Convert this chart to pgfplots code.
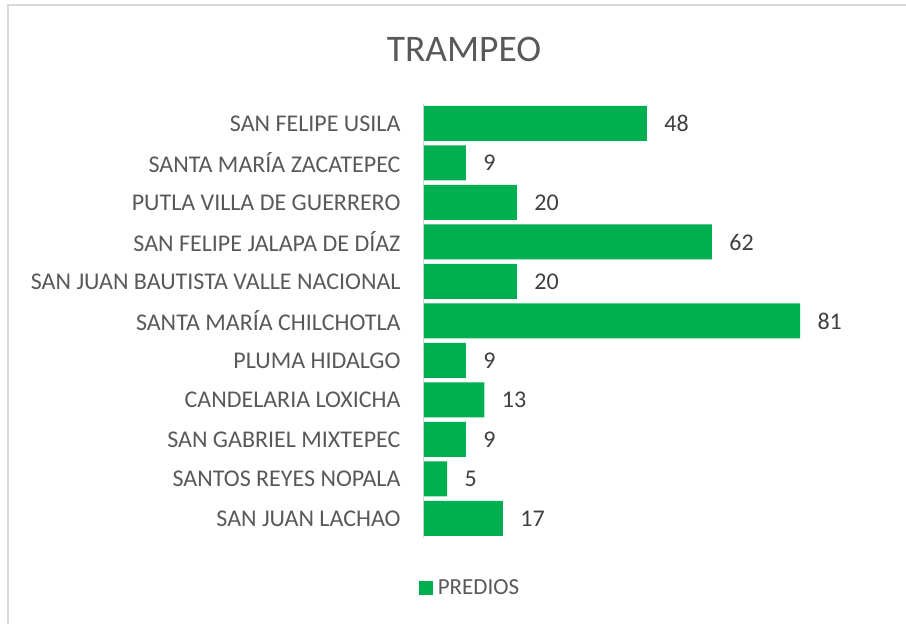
\documentclass[border=0pt]{standalone}
\usepackage{pgfplots}
\pgfplotsset{compat=1.18}
\usepackage{fontspec}
\setmainfont{Carlito}
\definecolor{barg}{RGB}{0,176,80}
\definecolor{txt}{RGB}{89,89,89}
\definecolor{dtxt}{RGB}{64,64,64}
\definecolor{lgray}{RGB}{217,217,217}
\begin{document}
\begin{tikzpicture}[x=1pt,y=1pt]
\path[use as bounding box] (0,0) rectangle (906,624);
\draw[lgray,line width=1.5pt] (8,0) -- (8,619) -- (906,619);
\node[anchor=base,text=txt,font=\fontsize{37.5}{42}\selectfont] at (464,562) {TRAMPEO};
\begin{axis}[
  at={(424pt,85.75pt)}, anchor=south west,
  scale only axis, width=417.8pt, height=434.5pt,
  xbar, xmin=0, xmax=90, ymin=-0.5, ymax=10.5,
  bar width=35pt,
  axis x line=none,
  axis y line*=left,
  y axis line style={lgray,line width=1pt},
  ytick={0,...,10}, major tick length=0pt,
  yticklabels={SAN JUAN LACHAO,SANTOS REYES NOPALA,SAN GABRIEL MIXTEPEC,CANDELARIA LOXICHA,PLUMA HIDALGO,SANTA MARÍA CHILCHOTLA,SAN JUAN BAUTISTA VALLE NACIONAL,SAN FELIPE JALAPA DE DÍAZ,PUTLA VILLA DE GUERRERO,SANTA MARÍA ZACATEPEC,SAN FELIPE USILA},
  yticklabel style={text=txt,font=\fontsize{24}{28}\selectfont,xshift=-20pt},
  /pgf/number format/assume math mode=true,
  nodes near coords,
  nodes near coords style={text=dtxt,font=\fontsize{24}{28}\selectfont,anchor=west,xshift=14pt},
  legend style={at={(0.11,-0.1145)},anchor=center,draw=none,fill=none,font=\fontsize{23}{27}\selectfont,text=txt,column sep=3pt},
  legend image code/.code={\fill[barg] (0pt,-7pt) rectangle (14pt,7pt);},
]
\addplot[fill=barg,draw=none] coordinates {(17,0) (5,1) (9,2) (13,3) (9,4) (81,5) (20,6) (62,7) (20,8) (9,9) (48,10)};
\legend{PREDIOS}
\end{axis}
\end{tikzpicture}
\end{document}
